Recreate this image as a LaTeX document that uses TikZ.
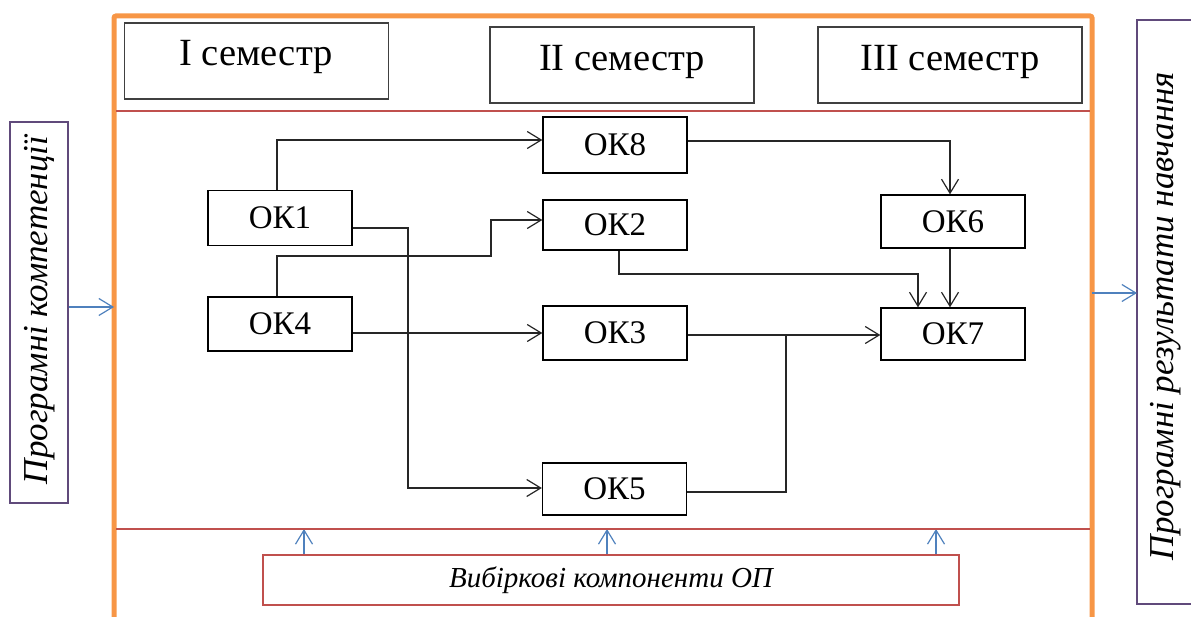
\documentclass[tikz,border=0pt]{standalone}
\usepackage{fontspec}
\setmainfont{Liberation Serif}
\usetikzlibrary{arrows.meta}
\definecolor{orangeF}{HTML}{F79646}
\definecolor{redL}{HTML}{C0504D}
\definecolor{purpleB}{HTML}{604A7B}
\definecolor{blueA}{HTML}{4F81BD}
\definecolor{grayB}{HTML}{404040}
\definecolor{lineK}{HTML}{262626}
\begin{document}
\begin{tikzpicture}[x=1pt,y=-1pt,
  okbox/.style={draw=black, line width=1.3pt, minimum width=144pt, inner sep=0pt, font=\fontsize{33}{36}\selectfont},
  hdrbox/.style={draw=grayB, line width=1.5pt, minimum width=264pt, minimum height=76pt, inner sep=0pt},
  hdrtext/.style={anchor=base, inner sep=0pt, font=\fontsize{38.5}{42}\selectfont},
  conn/.style={draw=lineK, line width=1.2pt},
  carrow/.style={conn, -{Straight Barb[length=14pt,width=17pt,line width=1.2pt]}},
  barrow/.style={draw=blueA, line width=1.2pt, -{Straight Barb[length=14pt,width=17pt,line width=1.2pt]}},
  sidetext/.style={rotate=90, inner sep=0pt, font=\fontsize{35}{38}\itshape\selectfont}
]
\useasboundingbox (0,0) rectangle (1191,617);

% outer orange frame
\draw[orangeF, line width=5pt, rounded corners=2pt] (114,617) -- (114,16) -- (1092,16) -- (1092,617);

% semester headers
\node[hdrbox] (s1) at (256.5,61) {};
\node[hdrtext] (s1t) at (256,66) {I семестр};
\node[hdrbox] (s2) at (622,65) {};
\node[hdrtext] (s2t) at (622,71) {II семестр};
\node[hdrbox] (s3) at (950,65) {};
\node[hdrtext] (s3t) at (950,71) {III семестр};

% OK nodes
\node[okbox, minimum height=55pt] (ok1) at (280,218) {ОК1};
\node[okbox, minimum height=54pt] (ok4) at (280,324) {ОК4};
\node[okbox, minimum height=56pt] (ok8) at (615,145) {ОК8};
\node[okbox, minimum height=50pt] (ok2) at (615,225) {ОК2};
\node[okbox, minimum height=54pt] (ok3) at (615,333) {ОК3};
\node[okbox, minimum height=52pt] (ok5) at (614.5,489) {ОК5};
\node[okbox, minimum height=53pt] (ok6) at (953,221.5) {ОК6};
\node[okbox, minimum height=52pt] (ok7) at (953,334) {ОК7};

% connectors
\draw[carrow] (277,0 |- ok1.north) |- (ok8.west |- 0,140);
\draw[carrow] (ok1.east |- 0,228) -| (408,488) -- (ok5.west |- 0,488);
\draw[carrow] (277,0 |- ok4.north) -- (277,256) -| (491,220) -- (ok2.west |- 0,220);
\draw[carrow] (ok4.east |- 0,333) -- (ok3.west |- 0,333);
\draw[carrow] (ok8.east |- 0,141) -| (950,0 |- ok6.north);
\draw[carrow] (619,0 |- ok2.south) -- (619,274) -| (918,0 |- ok7.north);
\draw[carrow] (950,0 |- ok6.south) -- (950,0 |- ok7.north);
\draw[carrow] (ok3.east |- 0,335) -- (ok7.west |- 0,335);
\draw[conn] (ok5.east |- 0,492) -| (786,335);

% left side box
\node[draw=purpleB, line width=2.5pt, minimum width=58pt, minimum height=381pt, inner sep=0pt] (comp) at (39,312.5) {};
\node[sidetext] (compt) at (40,310) {Програмні компетенції};
\coordinate (frameL) at (114,307);
\draw[barrow] (comp.east |- frameL) -- (frameL);

% right side box (open to the right edge)
\draw[purpleB, line width=2.5pt] (1195,20) -- (1137,20) -- (1137,604) -- (1195,604);
\node[sidetext] (rest) at (1166,316) {Програмні результати навчання};
\coordinate (frameR) at (1092,293);
\coordinate (resL) at (1137,293);
\draw[barrow] (frameR) -- (resL);

% bottom elective box
\node[draw=redL, line width=2.5pt, minimum width=696pt, minimum height=50pt, inner sep=0pt,
      font=\fontsize{29}{32}\itshape\selectfont] (opt) at (611,580) {Вибіркові компоненти ОП};
\coordinate (r1) at (304,529);
\coordinate (r2) at (607,529);
\coordinate (r3) at (936,529);
\draw[barrow] (opt.north -| r1) -- (r1);
\draw[barrow] (opt.north -| r2) -- (r2);
\draw[barrow] (opt.north -| r3) -- (r3);

% red separators
\draw[redL, line width=1.2pt] (116,111) -- (1090,111);
\draw[redL, line width=1.2pt] (116,529) -- (1090,529);
\end{tikzpicture}
\end{document}
